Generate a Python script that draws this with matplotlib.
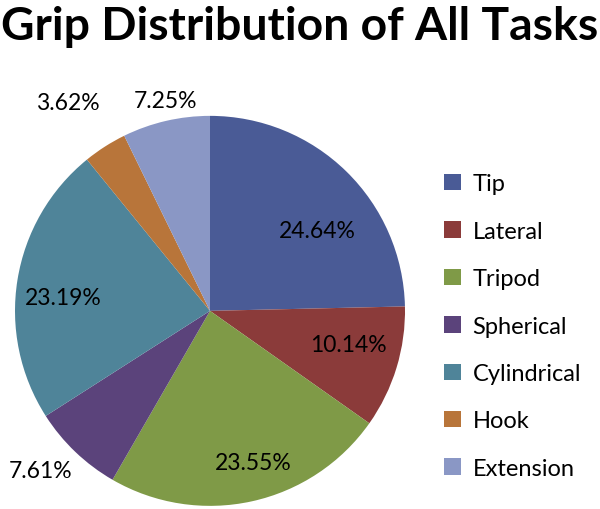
import matplotlib
matplotlib.use("Agg")
import matplotlib.pyplot as plt

plt.rcParams['font.family'] = ['Lato', 'DejaVu Sans']

# data
grips = ['Tip', 'Lateral', 'Tripod', 'Spherical', 'Cylindrical', 'Hook', 'Extension']
shares = [24.64, 10.14, 23.55, 7.61, 23.19, 3.62, 7.25]
colors = ['#4A5B96', '#8B3B3A', '#7F9A47', '#5B437B', '#4F8499', '#B8753A', '#8A97C5']

# where Excel put each percentage label (data units, pie radius = 1)
label_xy = [(0.55, 0.41), (0.71, -0.17), (0.22, -0.78), (-0.87, -0.82),
            (-0.75, 0.07), (-0.73, 1.07), (-0.23, 1.08)]

fig = plt.figure(figsize=(6, 5.1), dpi=100)
ax = fig.add_axes([0.025, 0.006, 0.65, 0.765])

wedges, _ = ax.pie(shares, colors=colors, startangle=90, counterclock=False,
                   radius=1.0, wedgeprops=dict(linewidth=0))
ax.set_xlim(-1, 1)
ax.set_ylim(-1, 1)
ax.set_aspect('equal')

for val, (x, y) in zip(shares, label_xy):
    ax.text(x, y, '%.2f%%' % val, ha='center', va='center', fontsize=16.5, color='black')

fig.text(0.5, 0.948, 'Grip Distribution of All Tasks', ha='center', va='center',
         fontsize=33.3, fontweight='bold')

leg = fig.legend(wedges, grips, loc='upper left', bbox_to_anchor=(0.705, 0.70),
                 frameon=False, fontsize=17, handlelength=0.7, handleheight=0.7,
                 handletextpad=0.5, labelspacing=1.12)
for h in leg.legend_handles:
    h.set_linewidth(0)

fig.savefig('out.png', dpi=100)
